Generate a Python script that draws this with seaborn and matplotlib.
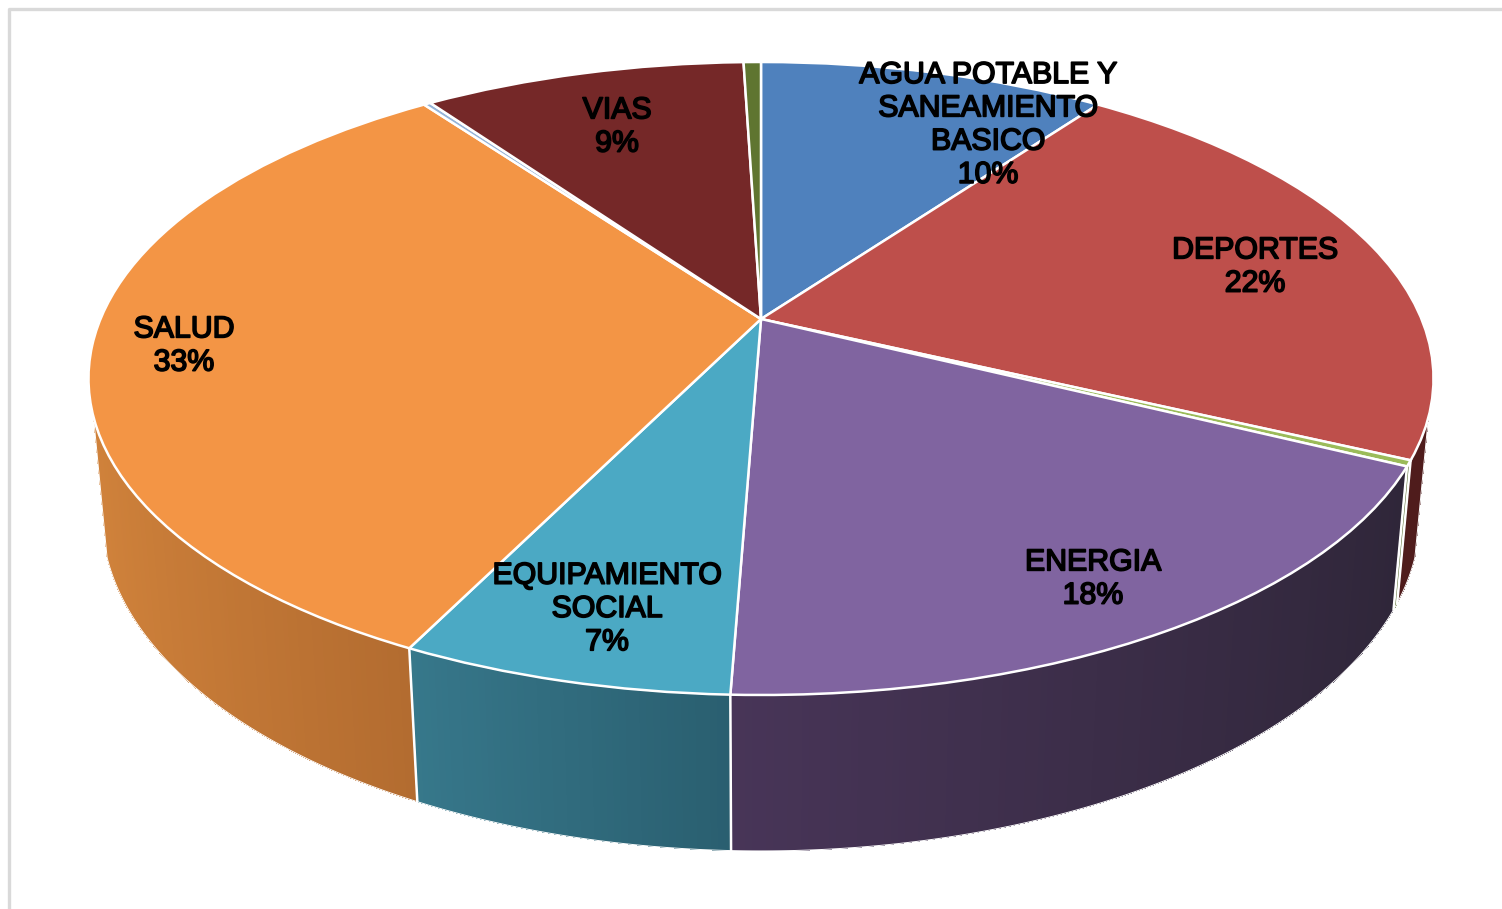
"""3D-look pie of the investment shares, with the perspective done by a small projection."""

import matplotlib.patheffects as pe
import matplotlib.pyplot as plt
import numpy as np
import seaborn as sns
from matplotlib.transforms import Transform

CATEGORIES = [
    "AGUA POTABLE Y\nSANEAMIENTO\nBASICO",
    "DEPORTES",
    "",
    "ENERGIA",
    "EQUIPAMIENTO\nSOCIAL",
    "SALUD",
    "",
    "VIAS",
    "",
]
VALUES = [10.0, 22.0, 0.3, 18.3, 6.7, 32.7, 0.2, 9.3, 0.5]
TOP_COLORS = [
    "#4F81BD", "#BE4F4B", "#9BBB59", "#8064A0", "#4BA9C4",
    "#F39545", "#95B3D7", "#752828", "#5F7530",
]
# wall shading, right end and left end of what shows of each slice
WALL_COLORS = [
    ("#2F4D72", "#2F4D72"),
    ("#4F1C1C", "#4F1C1C"),
    ("#5D7036", "#5D7036"),
    ("#2F2639", "#483558"),
    ("#2A5F70", "#37788B"),
    ("#B36C30", "#D0823B"),
    ("#5A6C82", "#5A6C82"),
    ("#471818", "#471818"),
    ("#39461D", "#39461D"),
]
# label centres in picture pixels
LABEL_POS = [
    (988, 125), (1255, 267), None, (1093, 579), (607, 609),
    (184, 346), None, (617, 127), None,
]

CENTER_X, CENTER_Y = 761, 319
SCALE_X, SCALE_Y = 660.5, 305.3
TILT, DEPTH_PERSP, DEPTH = 0.188, 0.0195, 137
WALL_START = -0.30  # the wall only shows below this v


def project(u, v, z=0.0):
    den = 1 + TILT * v + DEPTH_PERSP * z
    return CENTER_X + SCALE_X * u / den, CENTER_Y - (SCALE_Y * v - DEPTH * z) / den


class TopFace(Transform):
    input_dims = 2
    output_dims = 2

    def transform_non_affine(self, values):
        values = np.asarray(values)
        x, y = project(values[:, 0], values[:, 1])
        return np.column_stack([x, y])


sns.set_theme(style="white")
plt.rcParams["font.family"] = ["Liberation Sans", "DejaVu Sans"]

fig, ax = plt.subplots(figsize=(15.02, 9.09), dpi=100)
fig.subplots_adjust(0, 0, 1, 1)

wedges, _ = ax.pie(
    VALUES,
    colors=TOP_COLORS,
    startangle=90,
    counterclock=False,
    wedgeprops={"edgecolor": "white", "linewidth": 1.8, "zorder": 5},
)
top_transform = TopFace() + ax.transData
for wedge in wedges:
    wedge.set_transform(top_transform)

# side wall under the top face, shaded left to right like the original
for wedge, (start, end) in zip(wedges, WALL_COLORS):
    n = max(int((wedge.theta2 - wedge.theta1) / 0.5), 1)
    angles = np.radians(np.linspace(wedge.theta2, wedge.theta1, n + 1))
    angles = angles[np.sin(angles) < WALL_START]
    if len(angles) < 2:
        continue
    shades = sns.blend_palette([start, end], 256)
    u = np.cos(angles)
    for i in range(len(angles) - 1):
        a, b = angles[i], angles[i + 1]
        t = (u[i] - u[0]) / (u[-1] - u[0]) if u[-1] != u[0] else 0.0
        xs_top, ys_top = project(np.cos([a, b]), np.sin([a, b]))
        xs_low, ys_low = project(np.cos([b, a]), np.sin([b, a]), 1.0)
        ax.fill(
            np.r_[xs_top, xs_low], np.r_[ys_top, ys_low],
            facecolor=shades[int(t * 255)], edgecolor="none",
            linewidth=0, antialiased=False, zorder=2,
        )
    xs_top, ys_top = project(u, np.sin(angles))
    xs_low, ys_low = project(u[::-1], np.sin(angles)[::-1], 1.0)
    ax.fill(
        np.r_[xs_top, xs_low], np.r_[ys_top, ys_low],
        facecolor="none", edgecolor="white", linewidth=0.7, zorder=3,
    )

for wedge in wedges:
    a = np.radians(wedge.theta2)
    if np.sin(a) >= WALL_START:
        continue
    x0, y0 = project(np.cos(a), np.sin(a))
    x1, y1 = project(np.cos(a), np.sin(a), 1.0)
    ax.plot([x0, x1], [y0, y1], color="white", linewidth=1.8, zorder=3)

for name, value, pos in zip(CATEGORIES, VALUES, LABEL_POS):
    if pos is None:
        continue
    ax.text(
        pos[0], pos[1], f"{name}\n{value:.0f}%",
        ha="center", va="center", fontsize=21.8,
        color="black", linespacing=1.24, zorder=6,
        path_effects=[pe.withStroke(linewidth=1.2, foreground="black")],
    )

# the screenshot's grey frame, only top and left are in the crop
ax.plot([9, 9, 1502], [909, 9, 9], color="#D9D9D9", linewidth=2.4, zorder=1)

ax.set_aspect("auto")
ax.set_xlim(0, 1502)
ax.set_ylim(909, 0)
ax.set_axis_off()

fig.savefig("out.png", dpi=100)
